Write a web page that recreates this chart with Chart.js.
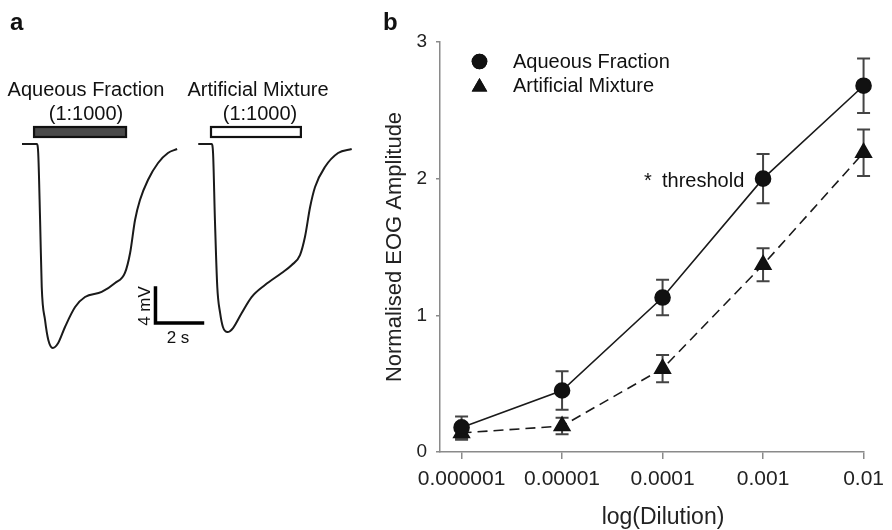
<!DOCTYPE html>
<html>
<head>
<meta charset="utf-8">
<script src="https://cdn.jsdelivr.net/npm/chart.js@4.4.1/dist/chart.umd.min.js"></script>
<style>
  html, body { margin: 0; padding: 0; background: #fff; }
  #wrap { position: relative; width: 892px; height: 530px; overflow: hidden; }
  #chart-traces { position: absolute; left: 0; top: 0; }
  #chart-dose { position: absolute; left: 380px; top: 0; }
</style>
</head>
<body>
<div id="wrap">
  <canvas id="chart-traces" width="380" height="530"></canvas>
  <canvas id="chart-dose" width="512" height="530"></canvas>
</div>
<script>
/* Panel b: normalised EOG amplitude vs dilution */
const dilutions = [0.000001, 0.00001, 0.0001, 0.001, 0.01];
const tickLabels = ['0.000001', '0.00001', '0.0001', '0.001', '0.01'];
const aqueousMean = [0.18, 0.45, 1.13, 2.00, 2.68];
const aqueousErr = [0.08, 0.14, 0.13, 0.18, 0.20];
const artificialMean = [0.14, 0.19, 0.61, 1.37, 2.19];
const artificialErr = [0.05, 0.06, 0.10, 0.12, 0.17];
const seriesNames = ['Aqueous Fraction', 'Artificial Mixture'];

/* Panel a: example EOG traces (time in s, response in mV) */
const aqueousTraceTime = [0.0, 0.63, 0.69, 0.77, 0.84, 0.98, 1.12, 1.31, 1.54, 1.83, 2.26, 2.68,
  3.39, 3.96, 4.38, 4.60, 4.81, 5.02, 5.36, 5.79, 6.21, 6.60];
const aqueousTraceMv = [0, 0, -1.03, -8.69, -16.34, -20.11, -22.4, -23.31, -22.74, -20.91, -18.63, -17.49,
  -16.91, -15.89, -14.74, -12.46, -8.69, -6.4, -4.11, -2.17, -1.03, -0.57];
const artificialTraceTime = [7.50, 8.07, 8.13, 8.21, 8.31, 8.43, 8.55, 8.75, 8.98, 9.35, 9.77, 10.34,
  11.05, 11.48, 11.83, 12.04, 12.26, 12.47, 12.89, 13.45, 14.03];
const artificialTraceMv = [0, 0, -1.03, -8.69, -16.34, -19.31, -20.91, -21.49, -21.03, -19.31, -17.49, -16.11,
  -14.74, -13.83, -12.69, -10.63, -7.2, -4.91, -2.63, -1.03, -0.57];
const stimulusOn = [0.47, 8.0];
const stimulusOff = [4.47, 11.91];
const stimulusDilution = '(1:1000)';
const scaleBarSeconds = 2;
const scaleBarMv = 4;

const FONT = "'Liberation Sans', Arial, sans-serif";
Chart.defaults.font.family = FONT;
Chart.defaults.color = '#222';
Chart.defaults.animation = false;

const AXIS_GREY = '#8a8a8a';

function toPoints(xs, ys) {
  return xs.map(function(x, i) { return { x: x, y: ys[i] }; });
}

/* ---------- panel a ---------- */
const tracePlugin = {
  id: 'traceExtras',
  afterDatasetsDraw: function(chart) {
    const ctx = chart.ctx;
    const x = chart.scales.x, y = chart.scales.y;
    const base = y.getPixelForValue(0);
    ctx.save();

    /* stimulus bars */
    stimulusOn.forEach(function(t0, i) {
      const left = x.getPixelForValue(t0);
      const right = x.getPixelForValue(stimulusOff[i]);
      ctx.fillStyle = i === 0 ? '#4a4a4a' : '#fff';
      ctx.strokeStyle = '#111';
      ctx.lineWidth = 2.2;
      ctx.fillRect(left + 1, base - 17, right - left - 2, 10);
      ctx.strokeRect(left + 1, base - 17, right - left - 2, 10);
    });

    /* scale bar */
    const cx = x.getPixelForValue(5.68), cy = y.getPixelForValue(-20.46);
    ctx.strokeStyle = '#000';
    ctx.lineWidth = 3.5;
    ctx.lineCap = 'square';
    ctx.beginPath();
    ctx.moveTo(cx, y.getPixelForValue(-20.46 + scaleBarMv));
    ctx.lineTo(cx, cy);
    ctx.lineTo(x.getPixelForValue(5.68 + scaleBarSeconds), cy);
    ctx.stroke();

    ctx.fillStyle = '#111';
    ctx.textAlign = 'center';
    ctx.textBaseline = 'alphabetic';
    ctx.font = '20px ' + FONT;
    ctx.fillText(seriesNames[0], 86, 96);
    ctx.fillText(stimulusDilution, 86, 120);
    ctx.fillText(seriesNames[1], 258, 96);
    ctx.fillText(stimulusDilution, 260, 120);

    ctx.font = '17px ' + FONT;
    ctx.fillText(scaleBarSeconds + ' s', 178, 343);
    ctx.save();
    ctx.translate(150, 306);
    ctx.rotate(-Math.PI / 2);
    ctx.fillText(scaleBarMv + ' mV', 0, 0);
    ctx.restore();

    ctx.font = 'bold 24px ' + FONT;
    ctx.textAlign = 'left';
    ctx.fillText('a', 10, 30);
    ctx.restore();
  }
};

new Chart(document.getElementById('chart-traces'), {
  type: 'line',
  data: {
    datasets: [
      { data: toPoints(aqueousTraceTime, aqueousTraceMv) },
      { data: toPoints(artificialTraceTime, artificialTraceMv) }
    ]
  },
  options: {
    responsive: false,
    layout: { padding: 0 },
    elements: {
      line: { borderColor: '#1a1a1a', borderWidth: 2, cubicInterpolationMode: 'monotone' },
      point: { radius: 0 }
    },
    plugins: { legend: { display: false }, tooltip: { enabled: false } },
    scales: {
      x: { type: 'linear', display: false, min: -0.936, max: 15.234 },
      y: { type: 'linear', display: false, min: -44.114, max: 16.457 }
    }
  },
  plugins: [tracePlugin]
});

/* ---------- panel b ---------- */
const doseExtras = {
  id: 'doseExtras',
  beforeDatasetsDraw: function(chart) {
    const ctx = chart.ctx;
    const x = chart.scales.x, y = chart.scales.y;
    const sets = [[aqueousMean, aqueousErr], [artificialMean, artificialErr]];
    ctx.save();
    ctx.strokeStyle = '#444';
    ctx.lineWidth = 2;
    sets.forEach(function(s) {
      dilutions.forEach(function(d, i) {
        const px = x.getPixelForValue(d);
        const top = y.getPixelForValue(s[0][i] + s[1][i]);
        const bot = y.getPixelForValue(s[0][i] - s[1][i]);
        ctx.beginPath();
        ctx.moveTo(px, top); ctx.lineTo(px, bot);
        ctx.moveTo(px - 6.5, top); ctx.lineTo(px + 6.5, top);
        ctx.moveTo(px - 6.5, bot); ctx.lineTo(px + 6.5, bot);
        ctx.stroke();
      });
    });
    ctx.restore();
  },
  afterDraw: function(chart) {
    const ctx = chart.ctx;
    ctx.save();
    /* legend */
    Chart.helpers.drawPoint(ctx, { pointStyle: 'circle', radius: 7.8, borderWidth: 0 }, 99.5, 61.5);
    ctx.fillStyle = '#111';
    ctx.fill();
    Chart.helpers.drawPoint(ctx, { pointStyle: 'triangle', radius: 9, borderWidth: 0 }, 99.5, 87);
    ctx.fill();
    ctx.fillStyle = '#111';
    ctx.font = '20px ' + FONT;
    ctx.textAlign = 'left';
    ctx.textBaseline = 'alphabetic';
    ctx.fillText(seriesNames[0], 133, 68);
    ctx.fillText(seriesNames[1], 133, 92);

    /* threshold note */
    ctx.fillText('*', 264, 187);
    ctx.fillText('threshold', 282, 187);

    /* x axis title, set a little right of the axis centre as in the figure */
    ctx.font = '23px ' + FONT;
    ctx.fillStyle = '#222';
    ctx.textAlign = 'center';
    ctx.textBaseline = 'middle';
    ctx.fillText('log(Dilution)', 283, 518);

    ctx.font = 'bold 24px ' + FONT;
    ctx.fillStyle = '#111';
    ctx.textAlign = 'left';
    ctx.textBaseline = 'alphabetic';
    ctx.fillText('b', 3, 30);
    ctx.restore();
  }
};

new Chart(document.getElementById('chart-dose'), {
  type: 'line',
  data: {
    datasets: [
      {
        label: seriesNames[0],
        data: toPoints(dilutions, aqueousMean),
        borderColor: '#1a1a1a',
        borderWidth: 1.6,
        pointStyle: 'circle',
        pointRadius: 7.5,
        pointBackgroundColor: '#111',
        pointBorderColor: '#111',
        clip: false
      },
      {
        label: seriesNames[1],
        data: toPoints(dilutions, artificialMean),
        borderColor: '#1a1a1a',
        borderWidth: 1.6,
        borderDash: [10, 6],
        pointStyle: 'triangle',
        pointRadius: 9,
        pointBackgroundColor: '#111',
        pointBorderColor: '#111',
        clip: false
      }
    ]
  },
  options: {
    responsive: false,
    layout: { padding: { top: 42, right: 20, left: 0, bottom: 0 } },
    plugins: { legend: { display: false }, tooltip: { enabled: false } },
    scales: {
      x: {
        type: 'logarithmic',
        min: 6.1e-7,
        max: 0.01,
        afterBuildTicks: function(axis) {
          axis.ticks = dilutions.map(function(v) { return { value: v }; });
        },
        afterFit: function(axis) { axis.height = 78; },
        grid: { drawOnChartArea: false, drawTicks: true, tickLength: 7, color: AXIS_GREY, lineWidth: 1.5 },
        border: { color: AXIS_GREY, width: 1.5 },
        ticks: {
          padding: 8,
          maxRotation: 0,
          autoSkip: false,
          font: { size: 21 },
          color: '#222',
          callback: function(value, index) { return tickLabels[index]; }
        }
      },
      y: {
        min: 0,
        max: 3,
        afterFit: function(axis) { axis.width = 60; },
        grid: { drawOnChartArea: false, drawTicks: true, tickLength: 4, color: AXIS_GREY, lineWidth: 1.5 },
        border: { color: AXIS_GREY, width: 1.5 },
        ticks: { stepSize: 1, padding: 9, font: { size: 19 }, color: '#222' },
        title: {
          display: true,
          text: 'Normalised EOG Amplitude',
          font: { size: 22 },
          color: '#222',
          padding: { top: 2, bottom: 0 }
        }
      }
    }
  },
  plugins: [doseExtras]
});
</script>
</body>
</html>
